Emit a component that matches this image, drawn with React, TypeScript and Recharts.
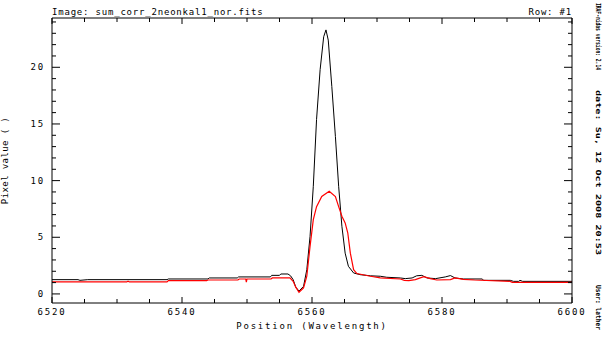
import React from "react";
import { LineChart, Line, XAxis, YAxis, Label } from "recharts";

// スペクトル (波長 / ピクセル値)
const blackWave = [6520, 6524, 6524.3, 6525.5, 6537.7, 6537.9, 6544.0, 6544.2, 6548.5, 6548.7, 6553.6, 6553.8, 6555.0, 6555.2, 6556.3, 6556.7, 6557.1, 6557.5, 6558.0, 6558.7, 6559.2, 6559.7, 6560.2, 6560.7, 6561.25, 6561.8, 6562.15, 6562.5, 6563.05, 6563.6, 6564.1, 6564.6, 6565.1, 6565.6, 6566.4, 6567.4, 6569.0, 6570.5, 6571.5, 6573.6, 6574.35, 6575.4, 6576.1, 6576.9, 6577.7, 6579.0, 6580.5, 6581.3, 6582.0, 6583.3, 6586.2, 6586.4, 6590.5, 6591.0, 6591.8, 6592.0, 6592.4, 6600];
const blackFlux = [1.26, 1.26, 1.2, 1.26, 1.26, 1.32, 1.32, 1.41, 1.41, 1.5, 1.5, 1.64, 1.64, 1.76, 1.76, 1.6, 1.26, 0.6, 0.25, 0.67, 2.14, 5.08, 9.5, 15.4, 19.8, 22.7, 23.3, 22.4, 18.3, 13.9, 9.5, 5.97, 3.6, 2.44, 1.85, 1.7, 1.6, 1.56, 1.47, 1.41, 1.35, 1.41, 1.6, 1.64, 1.41, 1.35, 1.5, 1.62, 1.41, 1.32, 1.32, 1.2, 1.2, 1.11, 1.11, 1.2, 1.11, 1.11];

const redWave = [6520, 6531.5, 6531.7, 6531.9, 6537.7, 6537.9, 6543.8, 6544.0, 6548.6, 6548.8, 6549.8, 6549.9, 6550.0, 6553.7, 6553.9, 6556.6, 6557.1, 6557.5, 6558.0, 6558.7, 6559.2, 6559.7, 6560.2, 6560.7, 6561.5, 6562.65, 6563.6, 6564.1, 6564.6, 6565.1, 6565.5, 6565.9, 6566.4, 6566.9, 6569.0, 6570.5, 6573.6, 6574.2, 6574.9, 6575.9, 6577.2, 6578.2, 6579.2, 6581.3, 6582.0, 6583.3, 6585.0, 6590.5, 6590.8, 6600];
const redFlux = [1.06, 1.06, 1.12, 1.06, 1.06, 1.17, 1.17, 1.23, 1.23, 1.32, 1.32, 1.05, 1.32, 1.32, 1.41, 1.41, 1.11, 0.6, 0.15, 0.53, 1.56, 4.2, 6.56, 7.7, 8.6, 9.06, 8.6, 7.7, 6.85, 6.27, 5.4, 3.6, 2.14, 1.8, 1.56, 1.41, 1.32, 1.2, 1.17, 1.26, 1.53, 1.35, 1.23, 1.26, 1.41, 1.29, 1.23, 1.11, 1.02, 1.02];

const xTicks = Array.from({ length: 17 }, (_, i) => 6520 + i * 5);
const xMajor = [6520, 6540, 6560, 6580, 6600];
const yTicks = Array.from({ length: 25 }, (_, i) => i);
const yMajor = [0, 5, 10, 15, 20];

const X_DOMAIN = [6520, 6600];
const Y_DOMAIN = [-0.8, 24.35];

const FONT = "DejaVu Sans Mono";

const blackData = blackWave.map((w, i) => ({ wave: w, flux: blackFlux[i] }));
const redData = redWave.map((w, i) => ({ wave: w, flux: redFlux[i] }));

// 目盛り (内向き、主目盛りは長め)
const BottomTick = ({ x, y, payload }: any) => {
  const major = xMajor.includes(payload.value);
  return (
    <g>
      <line x1={x} x2={x} y1={y} y2={y - (major ? 6 : 4)} stroke="#000" />
      {major && (
        <text x={x} y={y + 12} textAnchor="middle" fontSize={9} fontFamily={FONT} letterSpacing={1.8} fill="#000">
          {payload.value}
        </text>
      )}
    </g>
  );
};

const TopTick = ({ x, y, payload }: any) => {
  const major = xMajor.includes(payload.value);
  return <line x1={x} x2={x} y1={y} y2={y + (major ? 6 : 4)} stroke="#000" />;
};

const LeftTick = ({ x, y, payload }: any) => {
  const major = yMajor.includes(payload.value);
  return (
    <g>
      <line x1={x} x2={x + (major ? 8 : 4)} y1={y} y2={y} stroke="#000" />
      {major && (
        <text x={x - 7} y={y + 3} textAnchor="end" fontSize={9} fontFamily={FONT} letterSpacing={1.8} fill="#000">
          {payload.value}
        </text>
      )}
    </g>
  );
};

const RightTick = ({ x, y, payload }: any) => {
  const major = yMajor.includes(payload.value);
  return <line x1={x} x2={x - (major ? 8 : 4)} y1={y} y2={y} stroke="#000" />;
};

export default function App() {
  return (
    <div style={{ position: "absolute", left: 0, top: 0, width: 608, height: 338, background: "#fff" }}>
      <LineChart width={608} height={338} margin={{ top: 0, right: 0, bottom: 0, left: 0 }}>
        <XAxis
          xAxisId="b"
          dataKey="wave"
          type="number"
          domain={X_DOMAIN}
          allowDataOverflow
          ticks={xTicks}
          interval={0}
          height={35}
          tickSize={0}
          tickMargin={0}
          tickLine={false}
          tick={<BottomTick />}
          axisLine={{ stroke: "#000" }}
        >
          <Label
            value="Position (Wavelength)"
            position="insideBottom"
            offset={9}
            style={{ fontSize: 9, fontFamily: FONT, letterSpacing: 1.8, fill: "#000" }}
          />
        </XAxis>
        <XAxis
          xAxisId="t"
          orientation="top"
          dataKey="wave"
          type="number"
          domain={X_DOMAIN}
          allowDataOverflow
          ticks={xTicks}
          interval={0}
          height={18}
          tickSize={0}
          tickMargin={0}
          tickLine={false}
          tick={<TopTick />}
          axisLine={{ stroke: "#000" }}
        />
        <YAxis
          yAxisId="l"
          type="number"
          domain={Y_DOMAIN}
          allowDataOverflow
          ticks={yTicks}
          interval={0}
          width={52}
          tickSize={0}
          tickMargin={0}
          tickLine={false}
          tick={<LeftTick />}
          axisLine={{ stroke: "#000" }}
        >
          <Label
            value="Pixel value ( )"
            angle={-90}
            position="insideLeft"
            offset={5}
            style={{ fontSize: 9, fontFamily: FONT, letterSpacing: 0.4, fill: "#000", textAnchor: "middle" }}
          />
        </YAxis>
        <YAxis
          yAxisId="r"
          orientation="right"
          type="number"
          domain={Y_DOMAIN}
          allowDataOverflow
          ticks={yTicks}
          interval={0}
          width={36}
          tickSize={0}
          tickMargin={0}
          tickLine={false}
          tick={<RightTick />}
          axisLine={{ stroke: "#000" }}
        />
        <Line
          xAxisId="b"
          yAxisId="l"
          data={blackData}
          dataKey="flux"
          type="linear"
          stroke="#000000"
          strokeWidth={1}
          dot={false}
          isAnimationActive={false}
        />
        <Line
          xAxisId="t"
          yAxisId="r"
          data={redData}
          dataKey="flux"
          type="linear"
          stroke="#ff0000"
          strokeWidth={1.2}
          dot={false}
          isAnimationActive={false}
        />
      </LineChart>
      <svg width={608} height={338} style={{ position: "absolute", left: 0, top: 0, pointerEvents: "none" }}>
        <text x={52} y={15} fontSize={9} fontFamily={FONT} letterSpacing={0.8} fill="#000">
          Image: sum_corr_2neonkal1_nor.fits
        </text>
        <text x={572} y={15} textAnchor="end" fontSize={9} fontFamily={FONT} letterSpacing={0.8} fill="#000">
          Row: #1
        </text>
        <g transform="translate(596, 0) rotate(90)" fontSize={7} fontFamily={FONT} fontWeight="bold" fill="#000">
          <text x={3} y={0} textLength={67} lengthAdjust="spacingAndGlyphs">IRAF-nidas version: 2.14</text>
          <text x={90} y={0} textLength={165} lengthAdjust="spacingAndGlyphs">date: Su, 12 Oct 2008 20:53</text>
          <text x={285} y={0} textLength={45} lengthAdjust="spacingAndGlyphs">User: lather</text>
        </g>
      </svg>
    </div>
  );
}
